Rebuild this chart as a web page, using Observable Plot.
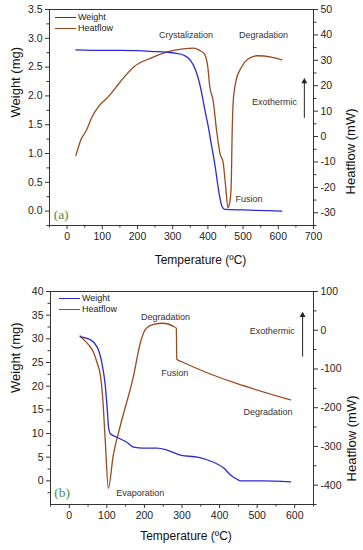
<!DOCTYPE html>
<html><head><meta charset="utf-8">
<script src="https://cdn.jsdelivr.net/npm/d3@7"></script>
<script src="https://cdn.jsdelivr.net/npm/@observablehq/plot@0.6"></script>
<style>
body{margin:0;background:#fff;}
.panel{position:relative;width:363px;height:275px;overflow:visible;}
.lg{position:absolute;font:9px 'Liberation Sans',Arial,sans-serif;color:#222;white-space:nowrap;line-height:1;}
.lgline{position:absolute;height:0;border-top:1.6px solid;}
</style></head><body>
<div id="a" class="panel"></div>
<div id="b" class="panel"></div>
<script>
// ---------- Panel (a) data ----------
const tempAW = [25, 100, 150, 200, 250, 280, 310, 330, 350, 365, 380, 390, 400, 410, 420, 432, 440, 448, 500, 610];
const weightA = [2.80, 2.79, 2.79, 2.785, 2.77, 2.76, 2.74, 2.71, 2.62, 2.45, 2.12, 1.80, 1.50, 1.15, 0.80, 0.30, 0.08, 0.03, 0.02, 0.00];
const tempAH = [25, 40, 55, 70, 90, 116, 145, 190, 240, 285, 330, 360, 375, 390, 400, 405, 415, 425, 435, 443, 450, 457, 462, 466, 469, 472, 480, 494, 514, 540, 580, 610];
const heatA = [-7.5, -1, 2.5, 7.5, 12, 15.5, 20.5, 27.5, 31, 33.3, 34.5, 34.8, 34, 32.5, 27, 20, 14, 2, -7, -10, -19, -28, -26, -20, 2, 14, 22, 27, 30.5, 31.8, 31.3, 30.2];
const xTicksA = [0, 100, 200, 300, 400, 500, 600, 700];
const wTicksA = [0, 0.5, 1.0, 1.5, 2.0, 2.5, 3.0, 3.5];
const hTicksA = [-30, -20, -10, 0, 10, 20, 30, 40, 50];
const labelsA = ["Crystalization", "Degradation", "Exothermic", "Fusion"];
const labelTempA = [338, 558, 589, 517];
const labelWA = [3.05, 3.05, 1.90, 0.21];

// ---------- Panel (b) data ----------
const tempBW = [29, 56, 74, 87, 96, 101, 105, 109, 127, 154, 171, 197, 234, 260, 298, 341, 368, 395, 411, 429, 443, 456, 517, 589];
const weightB = [30.4, 29.8, 28.3, 24.8, 20, 15.2, 11, 10, 9.2, 8.1, 7.1, 6.9, 6.9, 6.5, 5.4, 5.0, 4.4, 3.5, 2.7, 1.25, 0.5, 0, 0, -0.2];
const tempBH = [29, 38, 51, 65, 74, 83, 89, 96, 104, 117, 136, 171, 189, 203, 224, 251, 277, 285, 286, 301, 589];
const heatB = [-15, -24, -37, -58, -84, -118, -175, -290, -408, -323, -246, -118, -33, 3, 15, 18, 10, 5, -75, -82, -180];
const xTicksB = [0, 100, 200, 300, 400, 500, 600];
const wTicksB = [0, 5, 10, 15, 20, 25, 30, 35, 40];
const hTicksB = [-400, -300, -200, -100, 0, 100];
const labelsB = ["Degradation", "Fusion", "Exothermic", "Degradation", "Evaporation"];
const labelTempB = [256, 281, 540, 529, 189];
const labelWB = [34.6, 22.7, 31.7, 14.6, -2.5];

const BLUE = "#2a2ad2", BROWN = "#9a4a1e";
const range = (a, b, s) => d3.range(a, b + s / 2, s);

function panel(cfg) {
  const k = (cfg.wDom[1] - cfg.wDom[0]) / (cfg.hDom[1] - cfg.hDom[0]);
  const f = hf => cfg.wDom[0] + (hf - cfg.hDom[0]) * k;
  const finv = w => cfg.hDom[0] + (w - cfg.wDom[0]) / k;
  const wRows = cfg.wT.map((t, i) => ({t, v: cfg.wV[i]}));
  const hRows = cfg.hT.map((t, i) => ({t, v: f(cfg.hV[i])}));
  const ann = cfg.labels.map((s, i) => ({s, t: cfg.labT[i], w: cfg.labW[i]}));
  const arrow = [{t: cfg.arrow[0], w1: cfg.arrow[1], w2: cfg.arrow[2]}];
  const axisCol = "#333";
  return Plot.plot({
    width: 363, height: 275,
    marginLeft: cfg.m[3], marginRight: cfg.m[1], marginTop: cfg.m[0], marginBottom: cfg.m[2],
    x: {domain: cfg.xDom},
    y: {domain: cfg.wDom},
    style: {fontFamily: "'Liberation Sans', Arial, sans-serif", fontSize: "10.5px", color: "#222", background: "#fff", overflow: "visible"},
    marks: [
      Plot.frame({stroke: axisCol, strokeWidth: 1}),
      Plot.axisX({ticks: cfg.xTicks, tickSize: 4, tickPadding: 3, tickFormat: d => String(d), label: null, stroke: axisCol}),
      Plot.axisX({ticks: cfg.xMinor, tickSize: 2.5, tickFormat: () => "", label: null, stroke: axisCol}),
      Plot.axisY({anchor: "left", ticks: cfg.wTicks, tickSize: 4, tickPadding: 3, tickFormat: cfg.wFmt, label: null, stroke: axisCol}),
      Plot.axisY({anchor: "left", ticks: cfg.wMinor, tickSize: 2.5, tickFormat: () => "", label: null, stroke: axisCol}),
      Plot.axisY({anchor: "right", ticks: cfg.hTicks.map(f), tickSize: 4, tickPadding: 3, tickFormat: v => String(Math.round(finv(v))), label: null, stroke: axisCol}),
      Plot.axisY({anchor: "right", ticks: cfg.hMinor.map(f), tickSize: 2.5, tickFormat: () => "", label: null, stroke: axisCol}),
      Plot.line(hRows, {x: "t", y: "v", stroke: BROWN, strokeWidth: 1.3, curve: "monotone-x"}),
      Plot.line(wRows, {x: "t", y: "v", stroke: BLUE, strokeWidth: 1.3, curve: "monotone-x"}),
      Plot.text(ann, {x: "t", y: "w", text: "s", fontSize: 9, fill: "#333"}),
      Plot.text([cfg.tag], {x: () => cfg.tagPos[0], y: () => cfg.tagPos[1], text: d => d, fontSize: 13.5, fontFamily: "'Liberation Serif', 'DejaVu Serif', serif", fill: "#4c8c4c"}),
      Plot.link(arrow, {x1: "t", x2: "t", y1: "w1", y2: "w2", stroke: "#222", strokeWidth: 1}),
      Plot.dot(arrow, {x: "t", y: "w2", symbol: "triangle", r: 2.2, fill: "#222", stroke: null}),
      Plot.text(["Temperature (ºC)"], {frameAnchor: "bottom", dx: cfg.xTitle[0], dy: cfg.xTitle[1], text: d => d, fontSize: 12, fill: "#111"}),
      Plot.text(["Weight (mg)"], {frameAnchor: "left", dx: cfg.lTitle[0], dy: cfg.lTitle[1], rotate: -90, text: d => d, fontSize: 13, fill: "#111"}),
      Plot.text(["Heatflow (mW)"], {frameAnchor: "right", dx: cfg.rTitle[0], dy: cfg.rTitle[1], rotate: -90, text: d => d, fontSize: 13, fill: "#111"})
    ]
  });
}

function legend(el, x0, y1, y2) {
  const items = [["Weight", BLUE, y1], ["Heatflow", BROWN, y2]];
  for (const [name, col, y] of items) {
    const l = document.createElement("div");
    l.className = "lgline";
    l.style.cssText = `left:${x0}px;top:${y - 0.8}px;width:21px;border-top-color:${col};`;
    el.appendChild(l);
    const t = document.createElement("div");
    t.className = "lg";
    t.textContent = name;
    t.style.cssText = `left:${x0 + 23}px;top:${y - 5}px;`;
    el.appendChild(t);
  }
}

const elA = document.getElementById("a");
elA.appendChild(panel({
  m: [9, 50, 50, 49],
  xDom: [-50, 700], wDom: [-0.25, 3.5], hDom: [-35, 50],
  xTicks: xTicksA, xMinor: range(-50, 700, 50).filter(d => d % 100 !== 0),
  wTicks: wTicksA, wMinor: range(-0.25, 3.5, 0.25).filter(d => Math.abs(d * 2 - Math.round(d * 2)) > 1e-6), wFmt: d3.format(".1f"),
  hTicks: hTicksA, hMinor: range(-35, 45, 10),
  wT: tempAW, wV: weightA, hT: tempAH, hV: heatA,
  labels: labelsA, labT: labelTempA, labW: labelWA,
  tag: "(a)", tagPos: [-17, -0.07],
  arrow: [674, 1.62, 2.25],
  xTitle: [19, 38], lTitle: [-34, 0], rTitle: [37, -9]
}));
legend(elA, 55, 18, 29);

const elB = document.getElementById("b");
elB.appendChild(panel({
  m: [16, 50, 46, 50],
  xDom: [-50, 650], wDom: [-5, 40], hDom: [-450, 100],
  xTicks: xTicksB, xMinor: range(-50, 650, 50).filter(d => d % 100 !== 0),
  wTicks: wTicksB, wMinor: range(-2.5, 37.5, 5), wFmt: d => String(d),
  hTicks: hTicksB, hMinor: range(-450, 50, 100),
  wT: tempBW, wV: weightB, hT: tempBH, hV: heatB,
  labels: labelsB, labT: labelTempB, labW: labelWB,
  tag: "(b)", tagPos: [-19, -2.5],
  arrow: [621, 26.25, 35.0],
  xTitle: [4, 35], lTitle: [-35, -5], rTitle: [38, -2.5]
}));
legend(elB, 59, 24, 35);
</script></body></html>
